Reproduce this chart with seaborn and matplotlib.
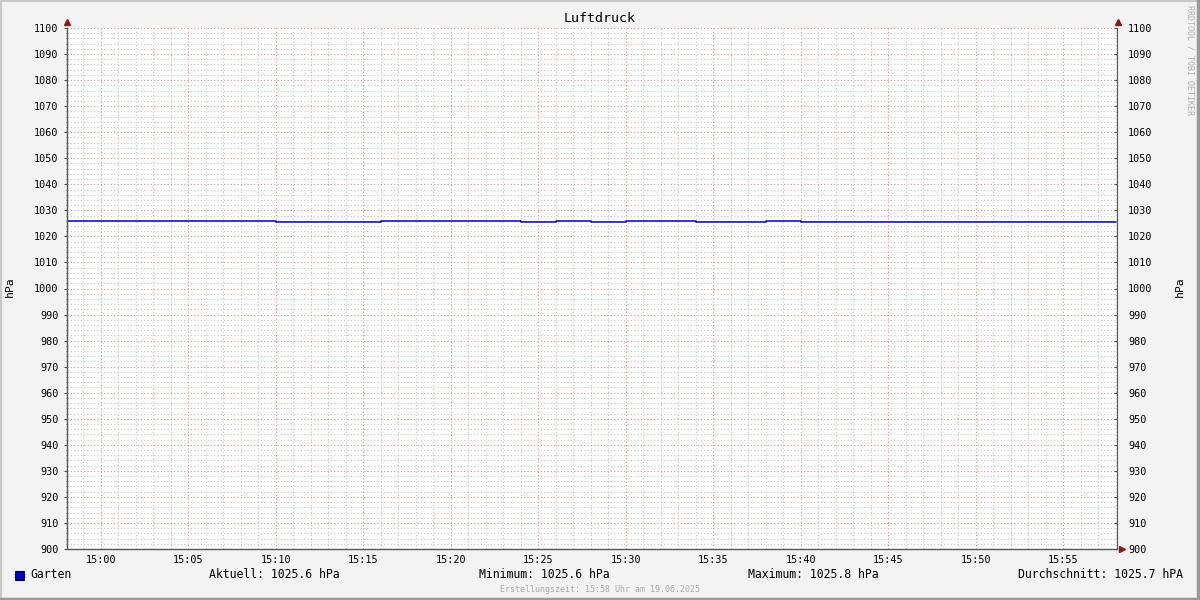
import numpy as np
import pandas as pd
import seaborn as sns
import matplotlib.pyplot as plt
from matplotlib.patches import Rectangle
from matplotlib.ticker import MultipleLocator

# Minutes relative to 15:00 where the value changes (step data)
minutes = [-2, 10, 16, 24, 26, 28, 30, 34, 38, 40, 58]
pressure = [1025.8, 1025.6, 1025.8, 1025.6, 1025.8, 1025.6, 1025.8, 1025.6, 1025.8, 1025.6, 1025.6]

tick_minutes = [0, 5, 10, 15, 20, 25, 30, 35, 40, 45, 50, 55]
tick_labels = ["15:00", "15:05", "15:10", "15:15", "15:20", "15:25",
               "15:30", "15:35", "15:40", "15:45", "15:50", "15:55"]

series_name = "Garten"
stats = ["Aktuell: 1025.6 hPa", "Minimum: 1025.6 hPa",
         "Maximum: 1025.8 hPa", "Durchschnitt: 1025.7 hPA"]

df = pd.DataFrame({"minute": minutes, "hPa": pressure})

sns.set_style("white")
plt.rcParams["font.family"] = ["DejaVu Sans Mono"]
plt.rcParams["text.color"] = "black"
plt.rcParams["xtick.color"] = "black"
plt.rcParams["ytick.color"] = "black"

bg = "#f3f3f3"
axis_col = "#555555"
arrow_col = "#8b1a1a"
line_col = "#0000cc"

fig = plt.figure(figsize=(12, 6), dpi=100, facecolor=bg)
ax = fig.add_axes([67 / 1200, 1 - 549 / 600, 1050 / 1200, 521 / 600])
ax.set_facecolor("white")

sns.lineplot(data=df, x="minute", y="hPa", ax=ax, color=line_col,
             drawstyle="steps-post", linewidth=1.1)

ax.set_xlim(-1.94, 58.06)
ax.set_ylim(900, 1100)

# grid: minor gray dotted, major red dotted
ax.xaxis.set_minor_locator(MultipleLocator(1))
ax.yaxis.set_minor_locator(MultipleLocator(2))
ax.set_xticks(tick_minutes)
ax.set_xticklabels(tick_labels)
ax.set_yticks(np.arange(900, 1101, 10))
ax.grid(which="minor", color="#c8c8c8", linestyle=(0, (1, 2)), linewidth=0.8)
ax.grid(which="major", color="#e09595", linestyle=(0, (1, 2)), linewidth=0.8)
ax.set_axisbelow(True)

for s in ["top", "right"]:
    ax.spines[s].set_visible(False)
for s in ["left", "bottom"]:
    ax.spines[s].set_color(axis_col)
    ax.spines[s].set_linewidth(1.0)

ax.tick_params(axis="y", which="major", labelsize=7.3, length=2, color=axis_col, pad=4)
ax.tick_params(axis="x", which="major", labelsize=7.3, length=2, color=axis_col, pad=2)
ax.tick_params(axis="both", which="minor", length=1, color=axis_col)
ax.set_xlabel("")
ax.set_ylabel("")

# right axis mirrors left
ax2 = ax.twinx()
ax2.set_ylim(900, 1100)
ax2.set_yticks(np.arange(900, 1101, 10))
ax2.yaxis.set_minor_locator(MultipleLocator(2))
ax2.tick_params(axis="y", which="major", labelsize=7.3, length=2, color=axis_col,
                direction="in", pad=8)
ax2.tick_params(axis="y", which="minor", length=0)
for s in ["top", "left", "bottom"]:
    ax2.spines[s].set_visible(False)
ax2.spines["right"].set_color(axis_col)
ax2.grid(False)

# arrows at axis ends
fig.lines.append(plt.Line2D([67 / 1200], [1 - 22 / 600], marker="^", color=arrow_col,
                            markersize=4, transform=fig.transFigure))
fig.lines.append(plt.Line2D([1118 / 1200], [1 - 22 / 600], marker="^", color=arrow_col,
                            markersize=4, transform=fig.transFigure))
fig.lines.append(plt.Line2D([1122 / 1200], [1 - 549 / 600], marker=">", color=arrow_col,
                            markersize=4, transform=fig.transFigure))

# texts
fig.text(0.5, 1 - 19 / 600, "Luftdruck", ha="center", va="center", fontsize=9.6)
fig.text(10 / 1200, 1 - 287 / 600, "hPa", rotation=90, ha="center", va="center", fontsize=8.2)
fig.text(1180 / 1200, 1 - 287 / 600, "hPa", rotation=90, ha="center", va="center", fontsize=8.2)
fig.text(1190 / 1200, 1 - 5 / 600, "RRDTOOL / TOBI OETIKER", rotation=270, ha="center",
         va="top", fontsize=6.0, color="#b0b0b0")

# legend row
fig.patches.append(Rectangle((15 / 1200, 1 - 580 / 600), 9 / 1200, 9 / 600, transform=fig.transFigure,
                             facecolor=line_col, edgecolor="#000033", linewidth=0.8))
fig.text(30 / 1200, 1 - 575 / 600, series_name, ha="left", va="center", fontsize=8.3)
fig.text(274 / 1200, 1 - 575 / 600, stats[0], ha="center", va="center", fontsize=8.3)
fig.text(544 / 1200, 1 - 575 / 600, stats[1], ha="center", va="center", fontsize=8.3)
fig.text(813 / 1200, 1 - 575 / 600, stats[2], ha="center", va="center", fontsize=8.3)
fig.text(1183 / 1200, 1 - 575 / 600, stats[3], ha="right", va="center", fontsize=8.3)
fig.text(0.5, 1 - 589 / 600, "Erstellungszeit: 15:58 Uhr am 19.06.2025", ha="center",
         va="center", fontsize=6.0, color="#a8a8a8")

# 3d-ish frame
fig.patches.append(Rectangle((0, 0), 1, 1, transform=fig.transFigure, fill=False,
                             edgecolor="#c8c8c8", linewidth=3))
fig.lines.append(plt.Line2D([0, 1], [0.002, 0.002], color="#9a9a9a", linewidth=2.5,
                            transform=fig.transFigure))
fig.lines.append(plt.Line2D([0.9985, 0.9985], [0, 1], color="#9a9a9a", linewidth=2.5,
                            transform=fig.transFigure))

fig.savefig("out.png", dpi=100, facecolor=bg)
